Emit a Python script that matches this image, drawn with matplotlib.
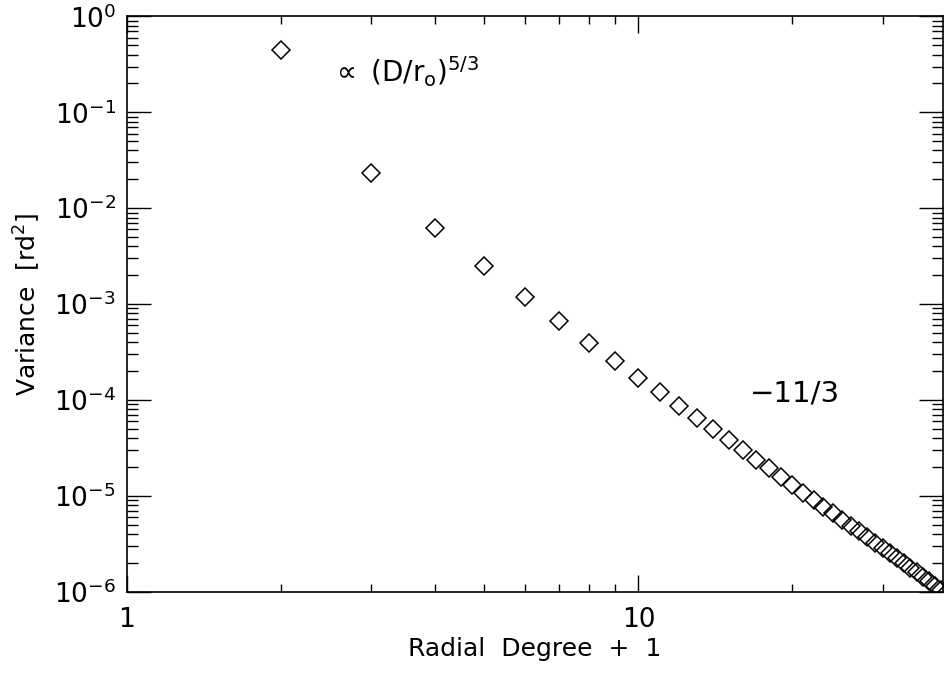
import matplotlib
matplotlib.use("Agg")
import matplotlib.pyplot as plt
import numpy as np

degree = [2, 3, 4, 5, 6, 7, 8, 9, 10, 11, 12, 13, 14, 15, 16, 17, 18, 19, 20,
          21, 22, 23, 24, 25, 26, 27, 28, 29, 30, 31, 32, 33, 34, 35, 36, 37, 38, 39]
variance = [0.448, 0.0231, 0.0062, 0.0025, 0.00119, 6.7e-4, 3.96e-4, 2.55e-4, 1.68e-4,
            1.2e-4, 8.6e-5, 6.5e-5, 5.0e-5, 3.85e-5, 3.0e-5, 2.37e-5, 1.93e-5, 1.58e-5, 1.30e-5,
            1.08e-5, 9.1e-6, 7.7e-6, 6.6e-6, 5.65e-6, 4.9e-6, 4.25e-6, 3.7e-6, 3.25e-6, 2.85e-6,
            2.52e-6, 2.24e-6, 1.99e-6, 1.78e-6, 1.6e-6, 1.43e-6, 1.29e-6, 1.16e-6, 1.05e-6]

fig = plt.figure(figsize=(9.44, 6.75), dpi=100)
ax = fig.add_axes([0.1345, 0.1234, 0.8645, 0.8522])

ax.plot(degree, variance, linestyle="none", marker="D", markersize=8.8,
        markerfacecolor="none", markeredgecolor="black", markeredgewidth=1.1)

ax.set_xscale("log")
ax.set_yscale("log")
ax.set_xlim(1, 39.4)
ax.set_ylim(1e-6, 1)

ax.set_xticks([1, 10])
ax.set_xticklabels(["1", "10"])
ax.set_yticks([1e-6, 1e-5, 1e-4, 1e-3, 1e-2, 1e-1, 1])

ax.tick_params(which="both", direction="in", top=True, right=True, width=1.0)
ax.tick_params(axis="x", which="major", length=12, labelsize=19, pad=11)
ax.tick_params(axis="x", which="minor", length=6)
ax.tick_params(axis="y", which="major", length=17, labelsize=19, pad=8)
ax.tick_params(axis="y", which="minor", length=8)

for s in ax.spines.values():
    s.set_linewidth(1.2)

ax.set_xlabel("Radial  Degree  +  1", fontsize=18, labelpad=3)
ax.set_ylabel("Variance  [rd$^2$]", fontsize=18, labelpad=8)

ax.text(0.25, 0.904, r"$\propto$ (D/r$_\mathrm{o}$)$^{5/3}$", transform=ax.transAxes,
        fontsize=20, va="center", ha="left")
ax.text(0.763, 0.345, "\u221211/3", transform=ax.transAxes,
        fontsize=21, va="center", ha="left")

fig.savefig("out.png", dpi=100)
